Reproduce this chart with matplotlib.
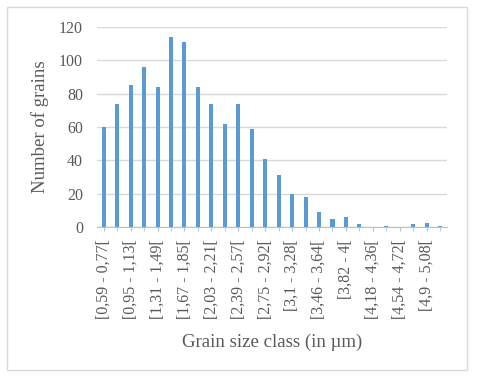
import matplotlib
matplotlib.use("Agg")
import matplotlib.pyplot as plt
from matplotlib.patches import Rectangle

# grain size classes (in µm), lower/upper bounds as shown in the labels
lower = ["0,59", "0,77", "0,95", "1,13", "1,31", "1,49", "1,67", "1,85", "2,03", "2,21",
         "2,39", "2,57", "2,75", "2,92", "3,1", "3,28", "3,46", "3,64", "3,82", "4",
         "4,18", "4,36", "4,54", "4,72", "4,9", "5,08"]
upper = ["0,77", "0,95", "1,13", "1,31", "1,49", "1,67", "1,85", "2,03", "2,21", "2,39",
         "2,57", "2,75", "2,92", "3,1", "3,28", "3,46", "3,64", "3,82", "4", "4,18",
         "4,36", "4,54", "4,72", "4,9", "5,08", "5,26"]
counts = [60, 74, 85, 96, 84, 114, 111, 84, 74, 62, 74, 59, 41, 31, 20, 18, 9, 5, 6, 2,
          0, 0.6, 0, 2, 2.5, 0.7]

labels = ["[%s - %s[" % (a, b) for a, b in zip(lower, upper)]

txt = "#595959"
plt.rcParams['font.family'] = ['Liberation Serif', 'DejaVu Serif']

fig = plt.figure(figsize=(4.8, 3.81), dpi=100)
ax = fig.add_axes([0.202, 0.404, 0.729, 0.525])

x = list(range(len(counts)))
ax.bar(x, counts, width=0.3, color="#5B9BD5", zorder=3)

ax.set_ylim(0, 120)
ax.set_yticks(range(0, 121, 20))
ax.set_xlim(-0.5, len(counts) - 0.5)
ax.yaxis.grid(True, color="#D9D9D9", linewidth=1, zorder=0)

ax.set_xticks(x[::2])
ax.set_xticklabels(labels[::2], rotation=90, fontsize=11.5, color=txt)
ax.set_xticks(x, minor=True)
ax.tick_params(axis="x", which="both", length=3, color="#BFBFBF", pad=6)
ax.tick_params(axis="y", length=0, labelsize=11.5, labelcolor=txt, pad=10)

for s in ["top", "right", "left"]:
    ax.spines[s].set_visible(False)
ax.spines["bottom"].set_color("#BFBFBF")

ax.set_ylabel("Number of grains", fontsize=13.5, color=txt)
ax.set_xlabel("Grain size class (in µm)", fontsize=13.5, color=txt)
ax.yaxis.set_label_coords(-0.163, 0.5)
ax.xaxis.set_label_coords(0.5, -0.575)
ax.xaxis.label.set_va("center")
ax.yaxis.label.set_va("center")

# outer chart border
fig.patches.append(Rectangle((7 / 480, 1 - 370 / 381), 460 / 480, 363 / 381,
                             transform=fig.transFigure, fill=False,
                             edgecolor="#D9D9D9", linewidth=1))

fig.savefig("out.png", dpi=100)
